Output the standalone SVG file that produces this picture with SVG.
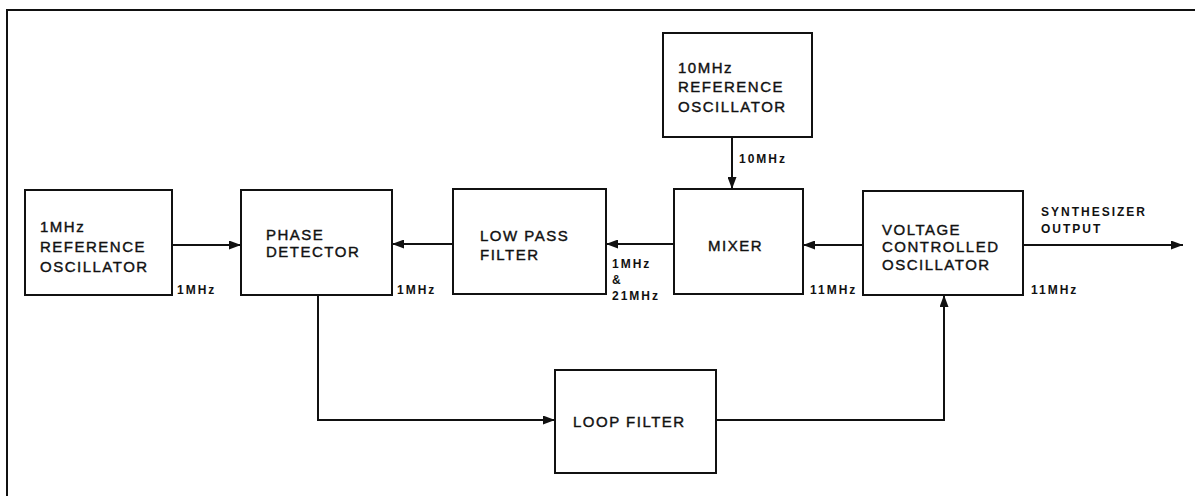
<svg xmlns="http://www.w3.org/2000/svg" width="1195" height="496" viewBox="0 0 1195 496">
<style>
.box{fill:#fff;stroke:#111;stroke-width:2}
.t{font-family:"Liberation Sans",Arial,sans-serif;font-size:15px;fill:#111;stroke:#111;stroke-width:0.4;letter-spacing:1.5px}
.s{font-family:"Liberation Sans",Arial,sans-serif;font-size:12px;font-weight:bold;fill:#111;letter-spacing:2px}
.c{fill:none;stroke:#111;stroke-width:2}
</style>
<defs>
<marker id="ah" viewBox="0 0 12 9" refX="12" refY="4.5" markerWidth="12" markerHeight="9" markerUnits="userSpaceOnUse" orient="auto">
<path d="M0,0 L12,4.5 L0,9 Z" fill="#111"/>
</marker>
</defs>
<rect width="1195" height="496" fill="#fff"/>
<g id="frame"><path class="c" d="M7,496 V10 H1195"/></g>
<g id="connectors">
<path class="c" d="M172,245 H241" marker-end="url(#ah)"/>
<path class="c" d="M453,244 H392" marker-end="url(#ah)"/>
<path class="c" d="M674,244 H606" marker-end="url(#ah)"/>
<path class="c" d="M863,245 H803" marker-end="url(#ah)"/>
<path class="c" d="M1023,245 H1183" marker-end="url(#ah)"/>
<path class="c" d="M732,137 V189" marker-end="url(#ah)"/>
<path class="c" d="M318,295 V420 H555" marker-end="url(#ah)"/>
<path class="c" d="M716,420 H944 V295" marker-end="url(#ah)"/>
</g>
<g id="ref10">
<rect class="box" x="663" y="33" width="149" height="104"/>
<text class="t" x="678" y="73">10MHz</text>
<text class="t" x="678" y="92">REFERENCE</text>
<text class="t" x="678" y="112">OSCILLATOR</text>
</g>
<g id="ref1">
<rect class="box" x="25" y="190" width="147" height="105"/>
<text class="t" x="40" y="232">1MHz</text>
<text class="t" x="40" y="252">REFERENCE</text>
<text class="t" x="40" y="272">OSCILLATOR</text>
</g>
<g id="pd">
<rect class="box" x="241" y="190" width="151" height="105"/>
<text class="t" x="266" y="240">PHASE</text>
<text class="t" x="266" y="257">DETECTOR</text>
</g>
<g id="lpf">
<rect class="box" x="453" y="189" width="153" height="105"/>
<text class="t" x="480" y="241">LOW PASS</text>
<text class="t" x="480" y="260">FILTER</text>
</g>
<g id="mixer">
<rect class="box" x="674" y="189" width="129" height="105"/>
<text class="t" x="708" y="251">MIXER</text>
</g>
<g id="vco">
<rect class="box" x="863" y="191" width="160" height="104"/>
<text class="t" x="882" y="235">VOLTAGE</text>
<text class="t" x="882" y="252">CONTROLLED</text>
<text class="t" x="882" y="270">OSCILLATOR</text>
</g>
<g id="loop">
<rect class="box" x="555" y="370" width="161" height="103"/>
<text class="t" x="573" y="427">LOOP FILTER</text>
</g>
<g id="labels">
<text class="s" x="177" y="294">1MHz</text>
<text class="s" x="397" y="294">1MHz</text>
<text class="s" x="612" y="268">1MHz</text>
<text class="s" x="612" y="284">&amp;</text>
<text class="s" x="612" y="300">21MHz</text>
<text class="s" x="739" y="163">10MHz</text>
<text class="s" x="810" y="294">11MHz</text>
<text class="s" x="1031" y="294">11MHz</text>
<text class="s" x="1041" y="216">SYNTHESIZER</text>
<text class="s" x="1041" y="233">OUTPUT</text>
</g>
</svg>
